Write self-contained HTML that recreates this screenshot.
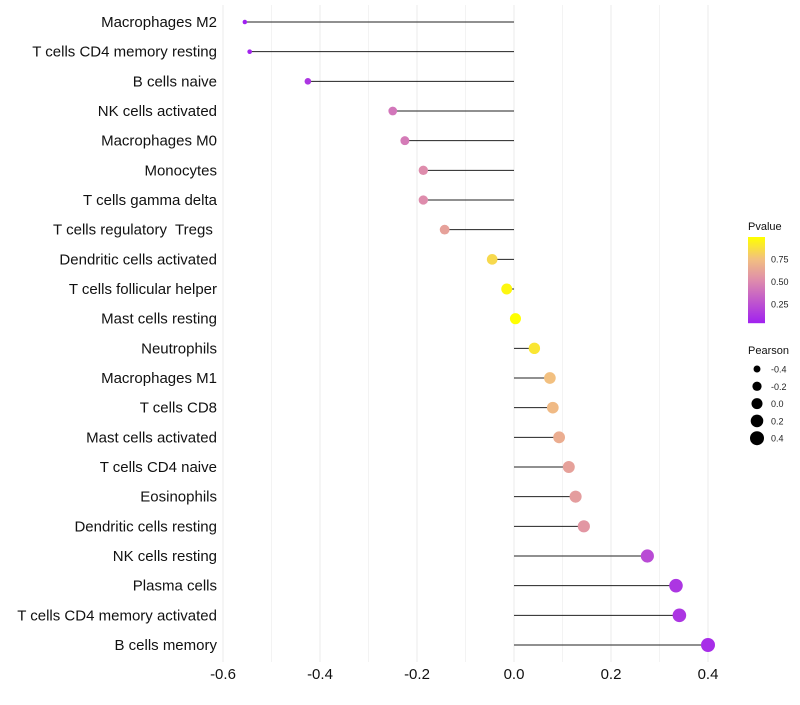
<!DOCTYPE html>
<html><head><meta charset="utf-8"><style>
body{margin:0;background:#fff;font-family:"Liberation Sans",sans-serif}
text{white-space:pre}
</style></head><body>
<svg id="chart" width="800" height="700" xmlns="http://www.w3.org/2000/svg" font-family="Liberation Sans, sans-serif"></svg>
<script>
const categories=["Macrophages M2","T cells CD4 memory resting","B cells naive","NK cells activated","Macrophages M0","Monocytes","T cells gamma delta","T cells regulatory  Tregs ","Dendritic cells activated","T cells follicular helper","Mast cells resting","Neutrophils","Macrophages M1","T cells CD8","Mast cells activated","T cells CD4 naive","Eosinophils","Dendritic cells resting","NK cells resting","Plasma cells","T cells CD4 memory activated","B cells memory"];
const pearson=[-0.555,-0.545,-0.425,-0.25,-0.225,-0.187,-0.187,-0.143,-0.045,-0.015,0.003,0.042,0.074,0.08,0.093,0.113,0.127,0.144,0.275,0.334,0.341,0.4];
const pvalues=[0.0,0.02,0.1,0.4,0.42,0.5,0.5,0.6,0.85,0.97,1.0,0.9,0.75,0.72,0.66,0.6,0.58,0.55,0.2,0.1,0.1,0.06];
const xTicks=[-0.6,-0.4,-0.2,0.0,0.2,0.4];
const pTicks=[0.25,0.5,0.75];
const sizeBreaks=[-0.4,-0.2,0.0,0.2,0.4];

const svg=document.getElementById('chart');
const NS="http://www.w3.org/2000/svg";
const x=v=>514+v*485;
const y=i=>22+i*(623/21);
const r=v=>Math.sqrt(Math.max(2,30.5+46*v));
function col(p){
  const stops=[[0,[160,32,240]],[0.5,[222,140,172]],[0.75,[242,192,128]],[1,[255,255,0]]];
  for(let k=1;k<stops.length;k++){if(p<=stops[k][0]){const a=stops[k-1],b=stops[k];const t=(p-a[0])/(b[0]-a[0]);
    return 'rgb('+a[1].map((c,j)=>Math.round(c+(b[1][j]-c)*t)).join(',')+')';}}
  return 'rgb(255,255,0)';
}
function el(t,attrs,txt){const e=document.createElementNS(NS,t);for(const k in attrs)e.setAttribute(k,attrs[k]);if(txt!==undefined)e.textContent=txt;svg.appendChild(e);return e;}

for(let v=-0.6;v<=0.45;v+=0.1){
  const g=el('line',{x1:x(v),x2:x(v),y1:5,y2:662,stroke:'#ebebeb','stroke-width':Math.abs(Math.round(v*10))%2===0?1:0.6});
  
  
}
xTicks.forEach(v=>{
  const t=el('text',{x:x(v),y:679,'text-anchor':'middle','font-size':15,fill:'#111'},v.toFixed(1));
  
  
});
categories.forEach((c,i)=>{
  const t=el('text',{x:217,y:y(i)+5,'text-anchor':'end','font-size':15,fill:'#111'},c);
  
  
  const l=el('line',{x1:x(0),x2:x(pearson[i]),y1:y(i),y2:y(i),stroke:'#222','stroke-width':1});
  
  
  const d=el('circle',{cx:x(pearson[i]),cy:y(i),r:r(pearson[i]),fill:col(pvalues[i])});
  
  
});
const t1=el('text',{x:748,y:230,'font-size':11,fill:'#111'},'Pvalue');


for(let k=0;k<86;k++){
  const p=1-k/86;
  const s=el('rect',{x:748,y:237+k,width:17,height:1.2,fill:col(p)});
  
  
}
pTicks.forEach(p=>{
  const yy=326-p*90;
  const tk=el('text',{x:771,y:yy+4,'font-size':9,fill:'#222'},p.toFixed(2));
  
  
});
const t2=el('text',{x:748,y:354,'font-size':11,fill:'#111'},'Pearson');


sizeBreaks.forEach((v,k)=>{
  const yy=369+k*17.3;
  const c=el('circle',{cx:757,cy:yy,r:r(v),fill:'#000'});
  
  
  const tx=el('text',{x:771,y:yy+3.5,'font-size':9,fill:'#222'},v.toFixed(1));
  
  
});
</script>
</body></html>
